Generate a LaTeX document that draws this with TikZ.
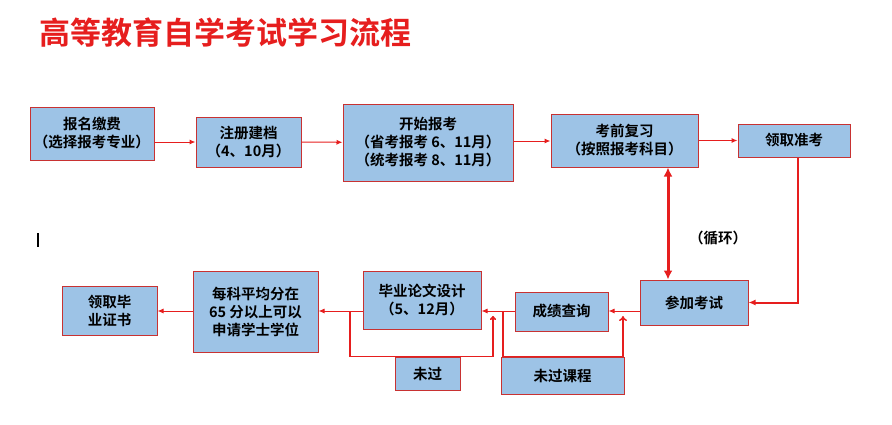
\documentclass[tikz,border=0pt]{standalone}
\usepackage{fontspec}
\setmainfont{Noto Sans CJK SC}[BoldFont={Noto Sans CJK SC Bold}]
\usetikzlibrary{arrows.meta}
\definecolor{boxfill}{RGB}{157,195,230}
\definecolor{boxline}{RGB}{200,50,50}
\definecolor{arr}{RGB}{230,30,30}
\begin{document}
\begin{tikzpicture}[x=1pt,y=-1pt,
 bx/.style={draw=boxline,line width=1pt,fill=boxfill,align=center,font=\fontsize{14.5}{18}\selectfont\bfseries,inner sep=0pt},
 ar/.style={draw=arr,line width=1pt,-{Latex[length=6pt,width=5pt]}},
 ln/.style={draw=arr,line width=1.5pt}]
\useasboundingbox (0,0) rectangle (892,424);
\node[anchor=west,text=arr,font=\fontsize{31}{35}\selectfont\bfseries] (title) at (36,33) {高等教育自学考试学习流程};
\node[bx,minimum width=124,minimum height=53] (a) at (92,133.5) {报名缴费\\（选择报考专业）};
\node[bx,minimum width=105,minimum height=50] (b) at (248.5,142) {注册建档\\（4、10月）};
\node[bx,minimum width=170,minimum height=77] (c) at (428,142.5) {开始报考\\（省考报考 6、11月）\\（统考报考 8、11月）};
\node[bx,minimum width=147,minimum height=53] (d) at (624.5,140.5) {考前复习\\（按照报考科目）};
\node[bx,minimum width=112,minimum height=33] (e) at (794,140.5) {领取准考};
\node[bx,minimum width=108,minimum height=45] (f) at (694,302.5) {参加考试};
\node[bx,minimum width=93,minimum height=39] (g) at (561.5,311.5) {成绩查询};
\node[bx,minimum width=118,minimum height=58] (h) at (422,300) {毕业论文设计\\（5、12月）};
\node[bx,minimum width=125,minimum height=81] (i) at (255.5,311.5) {每科平均分在\\65 分以上可以\\申请学士学位};
\node[bx,minimum width=95,minimum height=49] (j) at (109.5,310.5) {领取毕\\业证书};
\node[bx,minimum width=65,minimum height=33] (k) at (427.5,373.5) {未过};
\node[bx,minimum width=123,minimum height=37] (l) at (562.5,375.5) {未过课程};
\node[font=\fontsize{14.5}{18}\selectfont\bfseries] (loop) at (718,238) {（循环）};
\draw[ar] (a.east |- 0,142) -- (b.west);
\draw[ar] (b) -- (c);
\draw[ar] (c.east |- 0,141) -- (d.west |- 0,141);
\draw[ar] (d) -- (e);
\draw[arr,line width=2pt,-{Latex[length=7pt,width=6pt]}] (e.south) ++(4,0) coordinate (e1) -- (e1 |- f.east) -- (f.east);
\draw[arr,line width=3pt,{Latex[length=9pt,width=9pt]}-{Latex[length=9pt,width=9pt]}] (d.south -| 668,0) -- (f.north -| 668,0);
\draw[ar] (f.west |- 0,311) -- (g.east |- 0,311);
\draw[ar] (g.west |- 0,311) -- (h.east |- 0,311);
\draw[ar] (h.west |- 0,311) -- (i.east |- 0,311);
\draw[ar] (i.west |- 0,311) -- (j.east |- 0,311);
\coordinate (p1) at (350,311);
\coordinate (p2) at (493,316);
\draw[ln,-{To[length=4pt,width=6pt]}] (p1) |- (k.north -| 493,0) -- (p2);
\coordinate (q1) at (503,311);
\draw[ln,-{To[length=5pt,width=8pt]}] (q1) |- (l.north -| 623,0) -- (623,316);
\draw[line width=1.2pt] (38,233) -- (38,247);
\end{tikzpicture}
\end{document}
